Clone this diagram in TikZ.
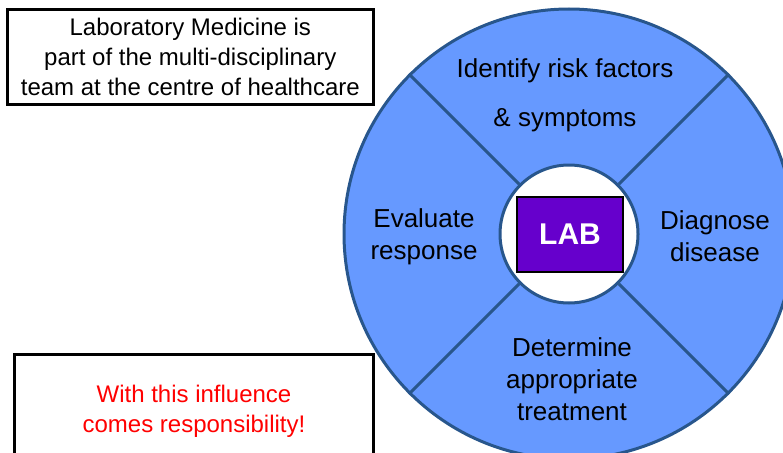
\documentclass[tikz,border=0pt]{standalone}
\usepackage{fontspec}
\setmainfont{Liberation Sans}
\definecolor{ringfill}{RGB}{102,153,255}
\definecolor{ringline}{RGB}{40,86,140}
\definecolor{labfill}{RGB}{102,0,204}
\definecolor{warnred}{RGB}{255,0,0}
\begin{document}
\begin{tikzpicture}[x=1pt,y=-1pt,
  ringtext/.style={font=\fontsize{26}{32}\selectfont, align=center, inner sep=0pt},
  boxtext/.style={font=\fontsize{24}{30}\selectfont, align=center, inner sep=0pt},
  msgbox/.style={draw=black, line width=2.6pt, fill=white, inner sep=0pt},
  ringline/.style={draw=ringline, line width=3pt}]
\useasboundingbox (0,0) rectangle (783,452);
\clip (0,0) rectangle (783,452);
\node[circle, ringline, fill=ringfill, minimum size=450pt, inner sep=0pt] (outer) at (569,234) {};
\node[circle, ringline, fill=white, minimum size=138pt, inner sep=0pt] (inner) at (569,234) {};
\foreach \a in {45,135,225,315} \draw[ringline] (inner.\a) -- (outer.\a);
\node[draw=black, fill=labfill, line width=2pt, minimum width=106pt, minimum height=75pt, inner sep=0pt, text=white, font=\bfseries\fontsize{30}{36}\selectfont] (lab) at (570,234.5) {LAB};
\node[ringtext] (identify) at (565,95) {Identify risk factors\\[17pt]\& symptoms};
\node[ringtext] (evaluate) at (424,237) {Evaluate\\response};
\node[ringtext] (diagnose) at (715,236) {Diagnose\\disease};
\node[ringtext] (determine) at (572,379) {Determine\\appropriate\\treatment};
\node[msgbox, boxtext, minimum width=366pt, minimum height=95.4pt] (topbox) at (190.3,57) {Laboratory Medicine is\\part of the multi-disciplinary\\team at the centre of healthcare};
\node[msgbox, boxtext, text=warnred, minimum width=358.6pt, minimum height=112.6pt] (botbox) at (194,411) {With this influence\\comes responsibility!};
\end{tikzpicture}
\end{document}
